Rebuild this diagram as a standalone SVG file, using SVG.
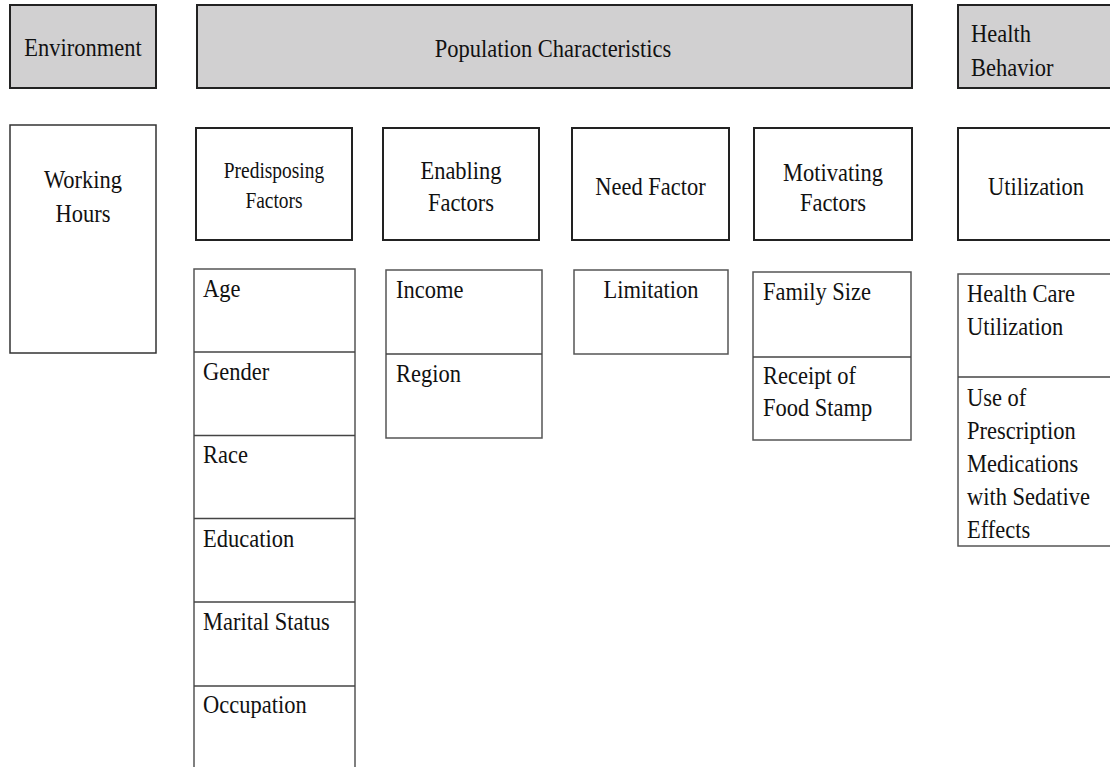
<svg xmlns="http://www.w3.org/2000/svg" width="1110" height="767" viewBox="0 0 1110 767">
<style>
.hdr{fill:#d1d0d1;stroke:#222;stroke-width:2}
.box{fill:#fff;stroke:#222;stroke-width:2}
.lst{fill:#fff;stroke:#555;stroke-width:1.5}
.sep{stroke:#444;stroke-width:1.5}
text{font-family:"Liberation Serif","Times New Roman",serif;font-size:26px;fill:#111}
.c{text-anchor:middle}
.sm{font-size:23px}
</style>
<rect width="1110" height="767" fill="#fff"/>
<g id="connectors"/>
<g id="environment">
<rect class="hdr" x="10" y="5" width="146" height="83"/>
<text class="c" transform="translate(83,0) scale(0.865,1)" x="0" y="56">Environment</text>
</g>
<g id="population">
<rect class="hdr" x="197" y="5" width="715" height="83"/>
<text class="c" transform="translate(553,0) scale(0.865,1)" x="0" y="57">Population Characteristics</text>
</g>
<g id="health-behavior">
<rect class="hdr" x="958" y="5" width="170" height="83"/>
<text transform="translate(971,0) scale(0.865,1)"><tspan x="0" y="42">Health</tspan><tspan x="0" y="76">Behavior</tspan></text>
</g>
<g id="working-hours">
<rect class="box" x="10" y="125" width="146" height="228" style="stroke-width:1.5;stroke:#333"/>
<text class="c" transform="translate(83,0) scale(0.865,1)"><tspan x="0" y="188">Working</tspan><tspan x="0" y="222">Hours</tspan></text>
</g>
<g id="predisposing">
<rect class="box" x="196" y="128" width="156" height="112"/>
<text class="c sm" transform="translate(274,0) scale(0.845,1)"><tspan x="0" y="178">Predisposing</tspan><tspan x="0" y="208">Factors</tspan></text>
</g>
<g id="enabling">
<rect class="box" x="383" y="128" width="156" height="112"/>
<text class="c" transform="translate(461,0) scale(0.865,1)"><tspan x="0" y="179">Enabling</tspan><tspan x="0" y="211">Factors</tspan></text>
</g>
<g id="need">
<rect class="box" x="572" y="128" width="157" height="112"/>
<text class="c" transform="translate(650.5,0) scale(0.865,1)" x="0" y="195">Need Factor</text>
</g>
<g id="motivating">
<rect class="box" x="754" y="128" width="158" height="112"/>
<text class="c" transform="translate(833,0) scale(0.865,1)"><tspan x="0" y="181">Motivating</tspan><tspan x="0" y="211">Factors</tspan></text>
</g>
<g id="utilization">
<rect class="box" x="958" y="128" width="170" height="112"/>
<text class="c" transform="translate(1036,0) scale(0.865,1)" x="0" y="195">Utilization</text>
</g>
<g id="predisposing-list">
<rect class="lst" x="194" y="269" width="161" height="520"/>
<line class="sep" x1="194" y1="352" x2="355" y2="352"/>
<line class="sep" x1="194" y1="435.5" x2="355" y2="435.5"/>
<line class="sep" x1="194" y1="518.5" x2="355" y2="518.5"/>
<line class="sep" x1="194" y1="602" x2="355" y2="602"/>
<line class="sep" x1="194" y1="686" x2="355" y2="686"/>
<text transform="translate(203,0) scale(0.865,1)"><tspan x="0" y="297">Age</tspan><tspan x="0" y="380">Gender</tspan><tspan x="0" y="463">Race</tspan><tspan x="0" y="547">Education</tspan><tspan x="0" y="630">Marital Status</tspan><tspan x="0" y="713">Occupation</tspan></text>
</g>
<g id="enabling-list">
<rect class="lst" x="386" y="270" width="156" height="168"/>
<line class="sep" x1="386" y1="354" x2="542" y2="354"/>
<text transform="translate(396,0) scale(0.865,1)"><tspan x="0" y="298">Income</tspan><tspan x="0" y="382">Region</tspan></text>
</g>
<g id="need-list">
<rect class="lst" x="574" y="270" width="154" height="84"/>
<text class="c" transform="translate(651,0) scale(0.865,1)" x="0" y="298">Limitation</text>
</g>
<g id="motivating-list">
<rect class="lst" x="753" y="272" width="158" height="168"/>
<line class="sep" x1="753" y1="357" x2="911" y2="357"/>
<text transform="translate(763,0) scale(0.865,1)"><tspan x="0" y="300">Family Size</tspan><tspan x="0" y="384">Receipt of</tspan><tspan x="0" y="416">Food Stamp</tspan></text>
</g>
<g id="utilization-list">
<rect class="lst" x="958" y="274" width="170" height="272"/>
<line class="sep" x1="958" y1="377" x2="1110" y2="377"/>
<text transform="translate(967,0) scale(0.865,1)"><tspan x="0" y="302">Health Care</tspan><tspan x="0" y="335">Utilization</tspan><tspan x="0" y="406">Use of</tspan><tspan x="0" y="439">Prescription</tspan><tspan x="0" y="472">Medications</tspan><tspan x="0" y="505">with Sedative</tspan><tspan x="0" y="538">Effects</tspan></text>
</g>
</svg>
